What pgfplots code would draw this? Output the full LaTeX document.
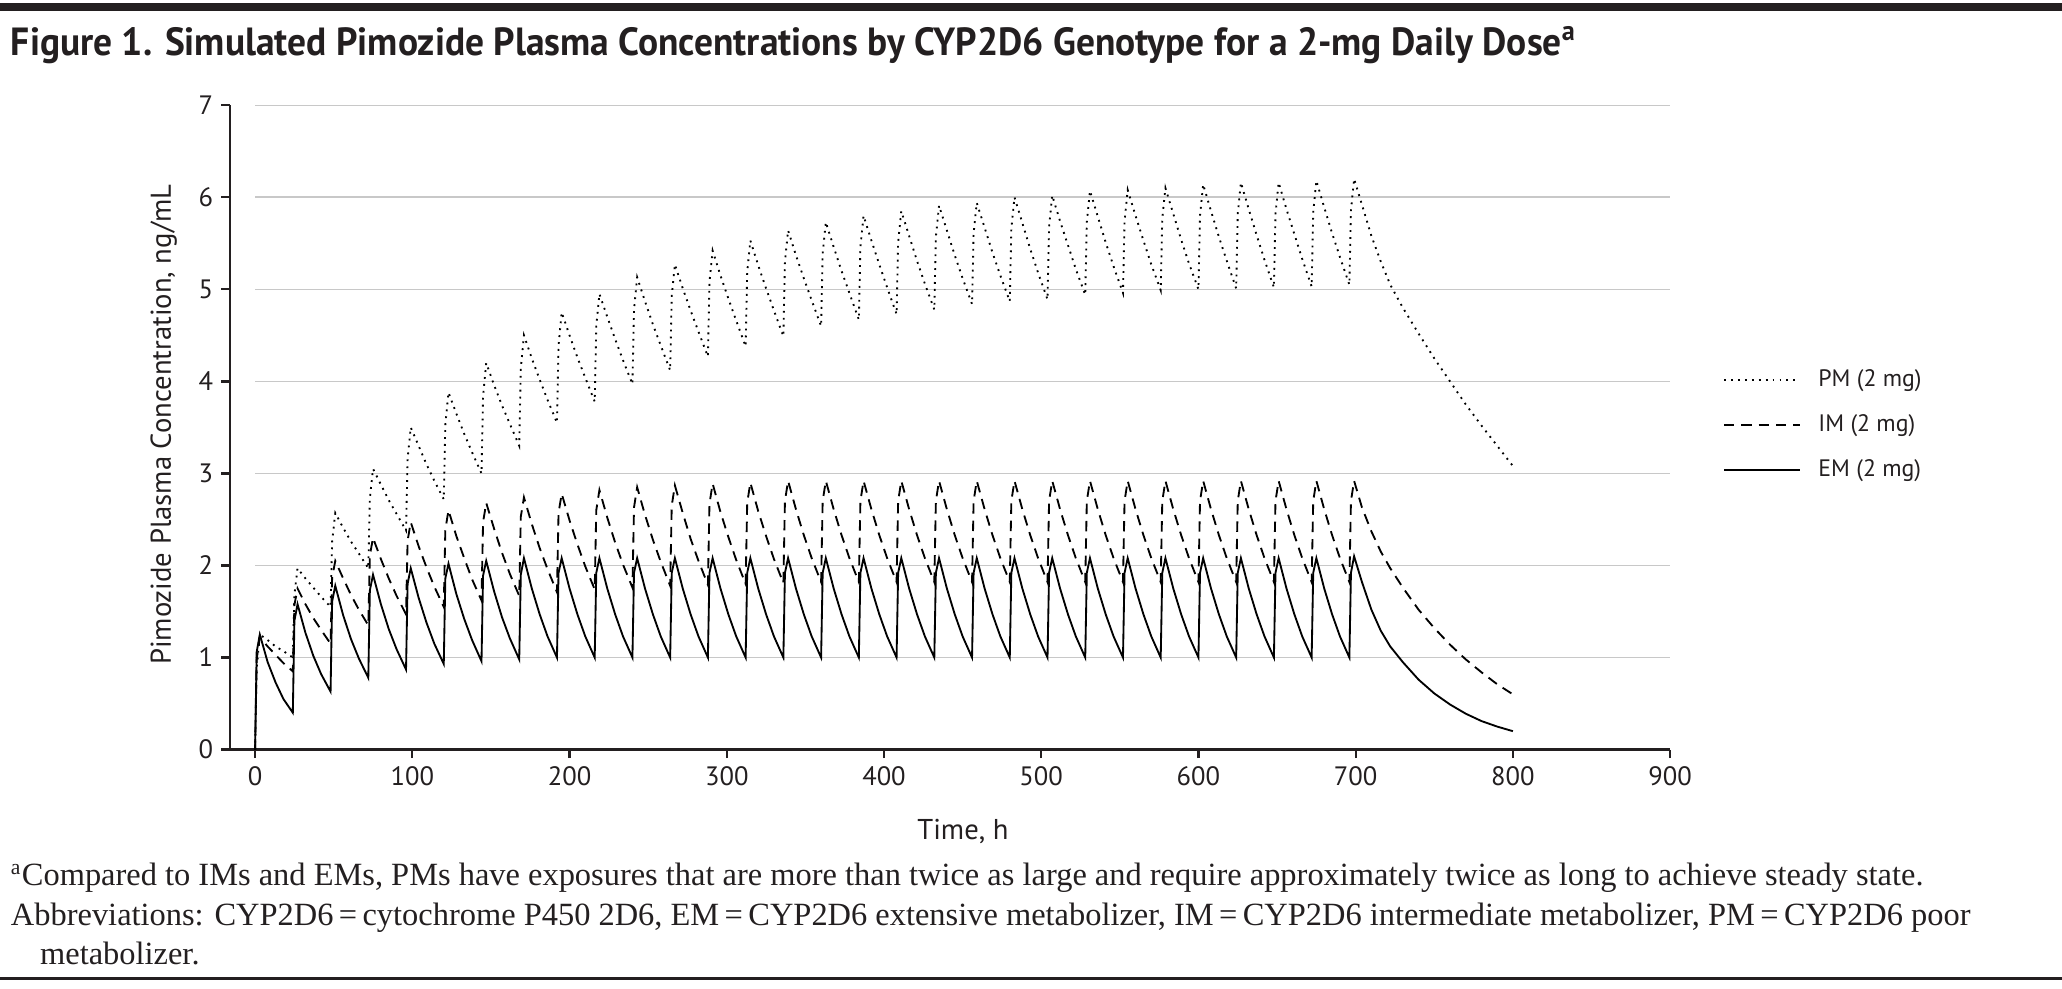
\documentclass[border=0pt]{standalone}
\usepackage{fontspec}
\setmainfont{Liberation Serif}
\setsansfont{PT Sans}
\usepackage{graphicx}
\usepackage{pgfplots}
\usepackage{pgfplotstable}
\pgfplotsset{compat=1.18}
\definecolor{ink}{HTML}{231F20}
\definecolor{gridgray}{HTML}{C8C8C8}

% simulated concentrations, ng/mL
\pgfplotstableread{
t em im pm
0 0 0 0
1 1.06 0.98 0.88
3 1.25 1.22 1.25
8 0.95 1.12 1.19
13 0.73 1.03 1.12
18 0.55 0.94 1.07
24 0.40 0.85 1.00
25 1.40 1.57 1.68
27 1.58 1.75 1.97
32 1.27 1.58 1.86
37 1.02 1.43 1.76
42 0.82 1.30 1.66
48 0.63 1.15 1.55
49 1.61 1.87 2.26
51 1.78 2.05 2.57
56 1.46 1.86 2.41
61 1.20 1.68 2.26
66 0.99 1.52 2.13
72 0.78 1.35 1.97
73 1.73 2.11 2.73
75 1.90 2.30 3.05
80 1.58 2.07 2.88
85 1.31 1.86 2.71
90 1.09 1.67 2.56
96 0.87 1.47 2.38
97 1.80 2.27 3.16
99 1.97 2.47 3.50
104 1.65 2.21 3.30
109 1.38 1.98 3.10
114 1.15 1.77 2.92
120 0.93 1.55 2.72
121 1.86 2.39 3.53
123 2.02 2.60 3.88
128 1.69 2.32 3.65
133 1.42 2.08 3.43
138 1.19 1.85 3.23
144 0.96 1.62 3.00
145 1.89 2.47 3.84
147 2.05 2.68 4.20
152 1.72 2.40 3.96
157 1.44 2.14 3.74
162 1.21 1.91 3.54
168 0.98 1.67 3.30
169 1.90 2.53 4.14
171 2.08 2.74 4.50
176 1.75 2.45 4.25
181 1.47 2.19 4.02
186 1.23 1.96 3.80
192 1.00 1.71 3.55
193 1.92 2.57 4.39
195 2.08 2.78 4.75
200 1.75 2.49 4.50
205 1.47 2.23 4.26
210 1.23 1.99 4.04
216 1.00 1.74 3.78
217 1.92 2.60 4.60
219 2.08 2.82 4.95
224 1.75 2.52 4.70
229 1.47 2.25 4.46
234 1.23 2.01 4.23
240 1.00 1.76 3.97
241 1.92 2.63 4.78
243 2.08 2.85 5.13
248 1.75 2.55 4.87
253 1.47 2.28 4.62
258 1.23 2.04 4.39
264 1.00 1.78 4.12
265 1.92 2.65 4.93
267 2.08 2.87 5.27
272 1.75 2.57 5.01
277 1.47 2.29 4.77
282 1.23 2.05 4.54
288 1.00 1.79 4.27
289 1.92 2.67 5.08
291 2.08 2.89 5.42
296 1.75 2.58 5.15
301 1.47 2.31 4.90
306 1.23 2.06 4.66
312 1.00 1.80 4.38
313 1.92 2.68 5.19
315 2.08 2.90 5.53
320 1.75 2.59 5.26
325 1.47 2.32 5.01
330 1.23 2.07 4.77
336 1.00 1.81 4.49
337 1.92 2.70 5.30
339 2.08 2.92 5.64
344 1.75 2.61 5.37
349 1.47 2.33 5.12
354 1.23 2.08 4.88
360 1.00 1.82 4.60
361 1.92 2.70 5.39
363 2.08 2.92 5.73
368 1.75 2.61 5.46
373 1.47 2.33 5.20
378 1.23 2.08 4.96
384 1.00 1.82 4.67
385 1.92 2.70 5.46
387 2.08 2.92 5.80
392 1.75 2.61 5.53
397 1.47 2.33 5.27
402 1.23 2.08 5.02
408 1.00 1.82 4.73
409 1.92 2.70 5.51
411 2.08 2.92 5.85
416 1.75 2.61 5.58
421 1.47 2.33 5.31
426 1.23 2.08 5.06
432 1.00 1.82 4.78
433 1.92 2.70 5.57
435 2.08 2.92 5.91
440 1.75 2.61 5.64
445 1.47 2.33 5.37
450 1.23 2.08 5.12
456 1.00 1.82 4.84
457 1.92 2.70 5.61
459 2.08 2.92 5.94
464 1.75 2.61 5.67
469 1.47 2.33 5.40
474 1.23 2.08 5.15
480 1.00 1.82 4.87
481 1.92 2.70 5.66
483 2.08 2.92 6.00
488 1.75 2.61 5.72
493 1.47 2.33 5.44
498 1.23 2.08 5.18
504 1.00 1.82 4.89
505 1.92 2.70 5.68
507 2.08 2.92 6.02
512 1.75 2.61 5.74
517 1.47 2.33 5.48
522 1.23 2.08 5.22
528 1.00 1.82 4.94
529 1.92 2.70 5.73
531 2.08 2.92 6.07
536 1.75 2.61 5.79
541 1.47 2.33 5.51
546 1.23 2.08 5.25
552 1.00 1.82 4.96
553 1.92 2.70 5.74
555 2.08 2.92 6.08
560 1.75 2.61 5.80
565 1.47 2.33 5.53
570 1.23 2.08 5.27
576 1.00 1.82 4.99
577 1.92 2.70 5.77
579 2.08 2.92 6.10
584 1.75 2.61 5.82
589 1.47 2.33 5.54
594 1.23 2.08 5.28
600 1.00 1.82 5.00
601 1.92 2.70 5.80
603 2.08 2.92 6.14
608 1.75 2.61 5.85
613 1.47 2.33 5.57
618 1.23 2.08 5.31
624 1.00 1.82 5.01
625 1.92 2.70 5.82
627 2.08 2.92 6.16
632 1.75 2.61 5.87
637 1.47 2.33 5.59
642 1.23 2.08 5.32
648 1.00 1.82 5.02
649 1.92 2.70 5.82
651 2.08 2.92 6.16
656 1.75 2.61 5.87
661 1.47 2.33 5.60
666 1.23 2.08 5.33
672 1.00 1.82 5.03
673 1.92 2.70 5.84
675 2.08 2.92 6.18
680 1.75 2.61 5.89
685 1.47 2.33 5.61
690 1.23 2.08 5.35
696 1.00 1.82 5.05
697 1.92 2.70 5.86
699 2.10 2.92 6.20
704 1.82 2.63 5.92
710 1.52 2.37 5.58
716 1.29 2.15 5.30
722 1.12 1.97 5.05
730 0.95 1.76 4.80
740 0.76 1.52 4.52
750 0.61 1.32 4.25
760 0.49 1.14 4.00
770 0.39 0.98 3.75
780 0.31 0.84 3.52
790 0.25 0.71 3.30
800 0.20 0.60 3.08
}\conc

\begin{document}
\begin{tikzpicture}
\path[use as bounding box] (0,0) rectangle (313.6mm,-150.4mm);
% top rule and title
\fill[ink] (0,-0.5mm) rectangle (313.6mm,-1.7mm);
\node[anchor=base west, inner sep=0, text=ink] at (1.6mm,-8.4mm)
  {\resizebox{238mm}{\height}{\sffamily\bfseries\fontsize{17}{20}\selectfont
   Figure 1. Simulated Pimozide Plasma Concentrations by CYP2D6 Genotype for a 2-mg Daily Dose\textsuperscript{a}}};

\begin{axis}[
    scale only axis, width=219.03mm, height=98mm,
    at={(34.97mm,-114mm)}, anchor=south west,
    xmin=-16, xmax=900, ymin=0, ymax=7,
    axis x line*=bottom, axis y line*=left,
    axis line style={ink, line width=1.2pt},
    xtick={0,100,...,900}, ytick={0,1,...,7},
    tick align=outside, major tick length=1.3mm,
    tick style={ink, line width=1pt},
    ticklabel style={font=\sffamily\fontsize{11.5}{13}\selectfont, text=ink},
    /pgf/number format/assume math mode=true,
    xlabel={Time, h},
    ylabel={Pimozide Plasma Concentration, ng/mL},
    label style={font=\sffamily\fontsize{12.4}{15}\selectfont, text=ink},
    xlabel style={at={(axis description cs:0.509,-0.127)}, anchor=center},
    ylabel style={at={(axis description cs:-0.046,0.504)}, anchor=center},
    legend style={at={(1.0365,0.504)}, anchor=west, draw=none, fill=none,
        font=\sffamily\fontsize{10.3}{12}\selectfont, text=ink,
        row sep=2.3mm, inner sep=0pt, cells={anchor=west},
        /tikz/every odd column/.append style={column sep=2mm}},
    legend image code/.code={\draw[#1] (0mm,0mm) -- (11.5mm,0mm);},
    every axis plot/.append style={line width=0.8pt, black},
]
\pgfplotsinvokeforeach{1,...,7}{
  \draw[gridgray, line width=0.7pt] (axis cs:0,#1) -- (axis cs:900,#1);
}
\addplot[dash pattern=on 0.8pt off 2.2pt] table[x=t, y=pm]{\conc};
\addplot[dash pattern=on 4.5pt off 3pt] table[x=t, y=im]{\conc};
\addplot[solid] table[x=t, y=em]{\conc};
\legend{PM (2 mg), IM (2 mg), EM (2 mg)}
\end{axis}

% footnotes and bottom rule
\node[anchor=north west, inner sep=0, text=ink] at (1.6mm,-130.5mm)
  {\resizebox{298mm}{!}{\fontsize{12}{14.5}\selectfont
   \begin{tabular}{@{}l@{}}
   \textsuperscript{a}Compared to IMs and EMs, PMs have exposures that are more than twice as large and require approximately twice as long to achieve steady state.\\
   Abbreviations: CYP2D6\,=\,cytochrome P450 2D6, EM\,=\,CYP2D6 extensive metabolizer, IM\,=\,CYP2D6 intermediate metabolizer, PM\,=\,CYP2D6 poor\\
   \hspace{0.9em}metabolizer.
   \end{tabular}}};
\fill[ink] (0,-148.6mm) rectangle (313.6mm,-149.1mm);
\end{tikzpicture}
\end{document}
